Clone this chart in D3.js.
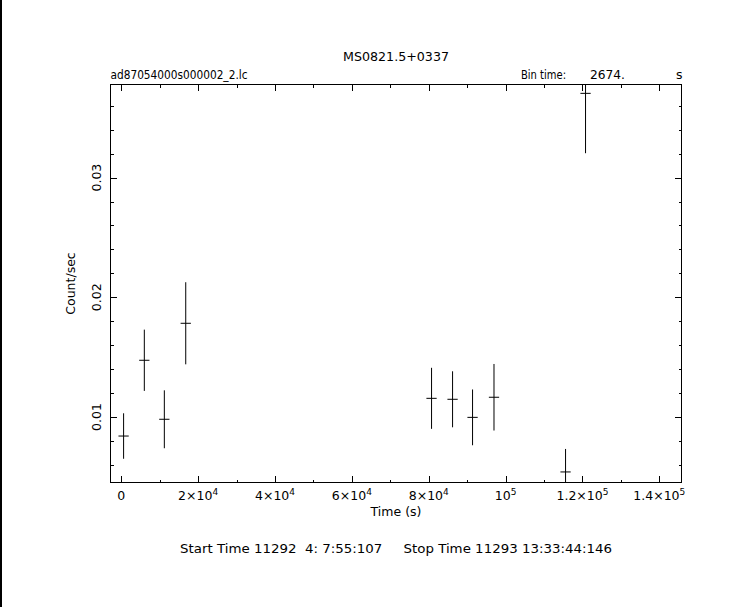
<!DOCTYPE html>
<html><head><meta charset="utf-8">
<script src="https://cdn.jsdelivr.net/npm/d3@7"></script>
<style>
html,body{margin:0;padding:0;background:#fff;}
svg{display:block;}
text{font-family:"DejaVu Sans",sans-serif;fill:#000;}
</style></head>
<body>
<svg id="chart" width="747" height="607"></svg>
<script>
// ---- data ----
const times  = [600, 5990, 11200, 16770, 80730, 86200, 91400, 96980, 115600, 120800];
const halfBin = 1337;
const rates  = [0.00841, 0.01474, 0.00981, 0.01783, 0.01156, 0.01148, 0.00997, 0.01165, 0.00541, 0.03704];
const rateErr = [0.0019, 0.00256, 0.00242, 0.00343, 0.00255, 0.00234, 0.00233, 0.00278, 0.00192, 0.0050];
const xMajor = [0, 20000, 40000, 60000, 80000, 100000, 120000, 140000];
const xMajorLabels = [["0",""],["2×10","4"],["4×10","4"],["6×10","4"],["8×10","4"],["10","5"],["1.2×10","5"],["1.4×10","5"]];
const xMinor = [10000, 30000, 50000, 70000, 90000, 110000, 130000];
const yMajor = [0.01, 0.02, 0.03];
const yMajorLabels = ["0.01", "0.02", "0.03"];
const yMinor = [0.006, 0.008, 0.012, 0.014, 0.016, 0.018, 0.022, 0.024, 0.026, 0.028, 0.032, 0.034, 0.036];

const svg = d3.select("#chart");
const L = 110.5, R = 681.5, T = 84.5, B = 482.5;
const x = d3.scaleLinear().domain([-2810, 145770]).range([L, R]);
const y = d3.scaleLinear().domain([0.004528, 0.03778]).range([B, T]);

// left edge line
svg.append("rect").attr("x",0).attr("y",0).attr("width",2).attr("height",607).attr("fill","#000");

// frame
svg.append("rect").attr("x",L).attr("y",T).attr("width",R-L).attr("height",B-T)
  .attr("fill","none").attr("stroke","#000").attr("stroke-width",1);

const MJ = 6.5, MN = 3;
function xAxis(gen, ty){
  const g = svg.append("g").attr("transform",`translate(0,${ty})`);
  g.call(gen);
  g.select(".domain").remove();
  g.selectAll("text").remove();
  g.selectAll("line").attr("stroke","#000").attr("shape-rendering","crispEdges");
  return g;
}
xAxis(d3.axisBottom(x).tickValues(xMajor).tickSize(-MJ), B);
xAxis(d3.axisBottom(x).tickValues(xMinor).tickSize(-MN), B);
xAxis(d3.axisTop(x).tickValues(xMajor).tickSize(-MJ), T);
xAxis(d3.axisTop(x).tickValues(xMinor).tickSize(-MN), T);
function yAxis(gen, tx){
  const g = svg.append("g").attr("transform",`translate(${tx},0)`);
  g.call(gen);
  g.select(".domain").remove();
  g.selectAll("text").remove();
  g.selectAll("line").attr("stroke","#000").attr("shape-rendering","crispEdges");
  return g;
}
yAxis(d3.axisLeft(y).tickValues(yMajor).tickSize(-MJ), L);
yAxis(d3.axisLeft(y).tickValues(yMinor).tickSize(-MN), L);
yAxis(d3.axisRight(y).tickValues(yMajor).tickSize(-MJ), R);
yAxis(d3.axisRight(y).tickValues(yMinor).tickSize(-MN), R);

// x tick labels
const fs = 12.5;
xMajor.forEach((v,i)=>{
  const t = svg.append("text").attr("x", x(v)).attr("y", 500).attr("text-anchor","middle").attr("font-size",fs);
  t.append("tspan").text(xMajorLabels[i][0]);
  if (xMajorLabels[i][1]) t.append("tspan").attr("dy",-5).attr("font-size",9).text(xMajorLabels[i][1]);
});
// y tick labels (rotated)
yMajor.forEach((v,i)=>{
  svg.append("text").attr("transform",`translate(101,${y(v)}) rotate(-90)`)
    .attr("text-anchor","middle").attr("font-size",fs).text(yMajorLabels[i]);
});

// axis titles
svg.append("text").attr("x",(L+R)/2).attr("y",516).attr("text-anchor","middle").attr("font-size",fs).text("Time (s)");
svg.append("text").attr("transform",`translate(75,${(T+B)/2}) rotate(-90)`).attr("text-anchor","middle").attr("font-size",fs).text("Count/sec");

// titles
svg.append("text").attr("x",343).attr("y",61).attr("font-size",fs)
  .attr("textLength",106).attr("lengthAdjust","spacingAndGlyphs").text("MS0821.5+0337");
svg.append("text").attr("x",L).attr("y",79).attr("font-size",fs)
  .attr("textLength",137).attr("lengthAdjust","spacingAndGlyphs").text("ad87054000s000002_2.lc");
svg.append("text").attr("x",521).attr("y",79).attr("font-size",fs)
  .attr("textLength",45).attr("lengthAdjust","spacingAndGlyphs").text("Bin time:");
svg.append("text").attr("x",590).attr("y",79).attr("font-size",fs)
  .attr("textLength",35).attr("lengthAdjust","spacingAndGlyphs").text("2674.");
svg.append("text").attr("x",676).attr("y",79).attr("font-size",fs).text("s");
svg.append("text").attr("x",180).attr("y",553).attr("font-size",fs).attr("xml:space","preserve")
  .style("white-space","pre").attr("textLength",432).attr("lengthAdjust","spacingAndGlyphs")
  .text("Start Time 11292  4: 7:55:107     Stop Time 11293 13:33:44:146");

// data with error bars, clipped to frame
svg.append("clipPath").attr("id","clip").append("rect").attr("x",L).attr("y",T).attr("width",R-L).attr("height",B-T);
const g = svg.append("g").attr("clip-path","url(#clip)").attr("stroke","#000").attr("stroke-width",1);
times.forEach((t,i)=>{
  g.append("line").attr("x1",x(t-halfBin)).attr("x2",x(t+halfBin)).attr("y1",y(rates[i])).attr("y2",y(rates[i]));
  g.append("line").attr("x1",x(t)).attr("x2",x(t)).attr("y1",y(rates[i]-rateErr[i])).attr("y2",y(rates[i]+rateErr[i]));
});
</script>
</body></html>
